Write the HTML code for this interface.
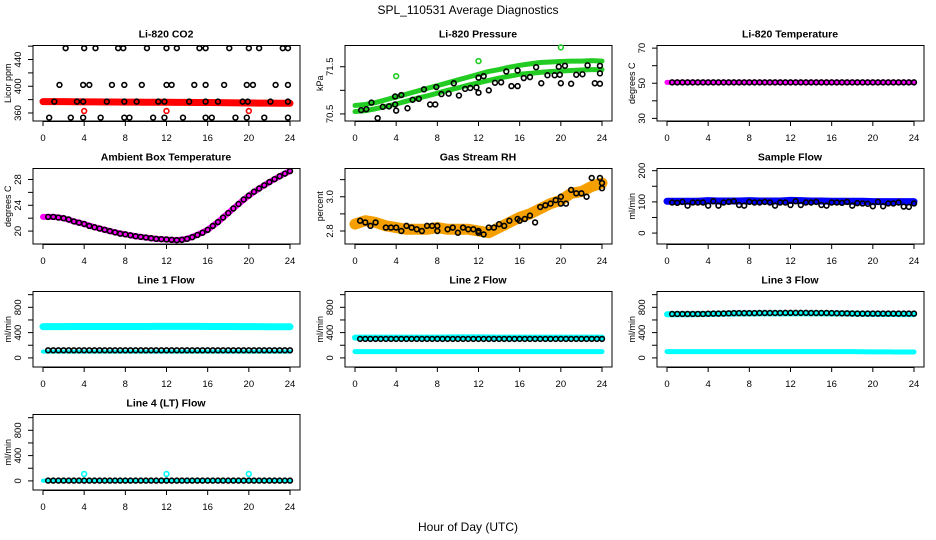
<!DOCTYPE html>
<html><head><meta charset="utf-8"><style>
html,body{margin:0;padding:0;background:#fff;}
svg{display:block;font-family:"Liberation Sans",Arial,sans-serif;}
</style></head><body>
<svg id="chart" width="936" height="540" viewBox="0 0 936 540" xmlns="http://www.w3.org/2000/svg">
<text x="468" y="14" font-size="12" text-anchor="middle">SPL_110531  Average Diagnostics</text>
<text x="468" y="531" font-size="12" text-anchor="middle">Hour of Day (UTC)</text>
</svg>
<script>
// ---- data ----
const hoursTicks = [0,4,8,12,16,20,24];
const hourly = [0,1,2,3,4,5,6,7,8,9,10,11,12,13,14,15,16,17,18,19,20,21,22,23,24];
const halfHours = [0.5,1,1.5,2,2.5,3,3.5,4,4.5,5,5.5,6,6.5,7,7.5,8,8.5,9,9.5,10,10.5,11,11.5,12,12.5,13,13.5,14,14.5,15,15.5,16,16.5,17,17.5,18,18.5,19,19.5,20,20.5,21,21.5,22,22.5,23,23.5,24];

// CO2
const co2Band = [377,377,377,376.8,376.7,376.6,376.5,376.4,376.3,376.2,376.1,376,376,375.9,375.8,375.7,375.6,375.5,375.3,375.1,375,374.8,374.7,374.6,374.5];
const co2PtsX = [2.2,4,5.1,7.3,7.8,10.1,12,13,15.2,15.8,18.1,20,21,23.3,23.8, 1.6,3.9,4.5,6.7,7.9,9.6,12,12.5,14.7,15.8,17.6,19.8,20.4,22.6,23.8, 1.1,3.3,3.9,6.2,7.9,9.1,11.2,11.8,14.2,15.8,17,19.4,19.9,22.1,23.8, 0.6,2.7,3.9,5.6,7.9,8.4,10.7,11.8,13.6,15.8,16.4,18.7,19.8,21.5,23.8];
const co2PtsY = [457,457,457,457,457,457,457,457,457,457,457,457,457,457,457, 402,402,402,402,402,402,402,402,402,402,402,402,402,402,402, 377,377,377,377,377,377,377,377,377,377,377,377,377,377,377, 353,353,353,353,353,353,353,353,353,353,353,353,353,353,353];
const co2OutX = [4,12,20];
const co2OutY = [363,363,363];

// Pressure
const presUpper = [70.68,70.7,70.74,70.8,70.86,70.92,70.98,71.04,71.1,71.16,71.22,71.28,71.34,71.4,71.44,71.49,71.53,71.56,71.59,71.6,71.61,71.62,71.62,71.63,71.62];
const presLower = [70.55,70.57,70.61,70.66,70.71,70.77,70.83,70.88,70.94,71.0,71.05,71.11,71.16,71.21,71.26,71.3,71.34,71.36,71.38,71.4,71.41,71.42,71.43,71.44,71.44];
const presPtsX = [1.6,3.9,4.5,6.7,7.9,9.6,12,12.5,14.7,15.8,17.6,19.8,20.4,22.6,23.8, 0.6,1.1,2.7,3.3,3.9,5.6,6.2,8.4,9.1,10.7,11.2,11.8,13.6,14.2,16.4,17,18.7,19.4,19.9,21.5,22.1,23.8, 2.2,4,5.1,7.3,7.8,10.1,12,13,15.2,15.8,18.1,20,21,23.3,23.8];
const presPtsY = [70.74,70.87,70.9,71.02,71.07,71.15,71.27,71.3,71.4,71.42,71.49,71.5,71.52,71.53,71.52, 70.58,70.6,70.65,70.66,70.7,70.8,70.82,70.92,70.93,71.03,71.05,71.06,71.16,71.17,71.26,71.28,71.32,71.32,71.33,71.33,71.34,71.36, 70.41,70.57,70.62,70.7,70.7,70.89,70.95,71.0,71.09,71.09,71.15,71.15,71.14,71.15,71.14];
const presOutX = [4,12,20];
const presOutY = [71.3,71.62,71.91];

// Li-820 temperature
const tempBand = [50.5,50.5,50.5,50.5,50.5,50.5,50.5,50.5,50.5,50.5,50.5,50.5,50.5,50.5,50.5,50.5,50.5,50.5,50.5,50.5,50.5,50.5,50.5,50.5,50.5];
const tempPts = [50.5,50.5,50.5,50.5,50.5,50.5,50.5,50.5,50.5,50.5,50.5,50.5,50.5,50.5,50.5,50.5,50.5,50.5,50.5,50.5,50.5,50.5,50.5,50.5,50.5,50.5,50.5,50.5,50.5,50.5,50.5,50.5,50.5,50.5,50.5,50.5,50.5,50.5,50.5,50.5,50.5,50.5,50.5,50.5,50.5,50.5,50.5,50.5];

// Ambient box temperature
const ambBand = [22.2,22.2,22.0,21.5,21.1,20.6,20.2,19.8,19.5,19.2,19.0,18.8,18.7,18.6,18.8,19.4,20.2,21.4,22.8,24.2,25.5,26.6,27.6,28.5,29.3];
const ambPts = [22.2,22.2,22.1,22.0,21.8,21.5,21.3,21.1,20.8,20.6,20.4,20.2,20.0,19.8,19.6,19.5,19.35,19.2,19.1,19.0,18.9,18.8,18.75,18.7,18.65,18.6,18.65,18.8,19.05,19.4,19.75,20.2,20.8,21.4,22.1,22.8,23.5,24.2,24.9,25.5,26.1,26.6,27.1,27.6,28.05,28.5,28.9,29.3];

// Gas stream RH
const rhBand = [2.84,2.86,2.85,2.83,2.82,2.81,2.81,2.81,2.82,2.81,2.81,2.81,2.8,2.79,2.82,2.85,2.88,2.9,2.93,2.96,2.98,3.02,3.03,3.06,3.08];
const rhPtsX = [0.5,1,1.5,2,3,3.5,4,4.5,5,5.5,6,6.5,7,7.5,8,8,9,9.5,10,10.5,11,11.5,12,12,12.5,13,13.5,14,14.5,15,15.8,16,16.5,17,17.5,18,18.5,19,19.5,20,20,20.5,21,21.5,22,22.5,23,23.8,24,24];
const rhPtsY = [2.86,2.85,2.83,2.85,2.82,2.82,2.82,2.8,2.83,2.82,2.81,2.8,2.83,2.83,2.8,2.83,2.81,2.82,2.79,2.82,2.81,2.81,2.79,2.8,2.78,2.82,2.82,2.84,2.83,2.86,2.87,2.86,2.87,2.89,2.85,2.94,2.95,2.96,2.98,3.0,2.96,2.96,3.04,3.02,3.02,3.0,3.11,3.11,3.08,3.05];

// Sample flow
const sfBand = [102,102,102,102,104,103,103,103,104,103,103,103,105,104,103,103,102,102,102,102,101,101,101,101,101];
const sfPts = [98,97,100,88,98,98,98,88,102,88,98,100,102,90,88,100,98,98,100,98,88,98,98,90,102,90,98,98,100,90,88,98,98,97,100,88,96,95,94,86,100,86,95,95,98,85,84,95];

// Line flows
const l1Band = [495,495,495,496,497,497,497,497,497,497,497,498,498,498,498,498,497,497,496,495,494,494,493,493,492];
const l1Low = [100,100,100,100,100,100,100,100,100,100,100,100,100,100,100,100,100,100,100,100,100,100,100,100,100];
const l1Pts = [120,120,120,120,120,120,120,120,120,120,120,120,120,120,120,120,120,120,120,120,120,120,120,120,120,120,120,120,120,120,120,120,120,120,120,120,120,120,120,120,120,120,120,120,120,120,120,120];
const l2Band = [320,320,320,320,320,320,320,320,320,322,325,325,325,322,320,320,320,320,320,320,320,320,320,320,320];
const l2Low = [100,100,100,100,100,100,100,100,100,100,100,100,100,100,100,100,100,100,100,100,100,100,100,100,100];
const l2Pts = [300,300,300,300,300,300,300,300,300,300,300,300,300,300,300,300,300,300,300,300,300,300,300,300,300,300,300,300,300,300,300,300,300,300,300,300,300,300,300,300,300,300,300,300,300,300,300,300];
const l3Band = [690,690,690,692,695,698,700,702,703,704,705,705,705,705,705,704,703,702,700,698,696,695,694,693,693];
const l3Low = [100,100,100,100,100,100,100,100,100,100,100,100,100,100,100,100,100,100,100,98,96,95,94,94,94];
const l3Pts = [695,695,695,695,695,695,695,698,700,700,702,705,708,708,708,708,708,710,710,710,710,710,712,712,712,712,712,710,710,710,710,708,706,705,705,702,700,700,700,700,700,700,700,700,700,700,700,700];
const l4Band = [5,5,5,5,5,5,5,5,5,5,5,5,5,5,5,5,5,5,5,5,5,5,5,5,5];
const l4Pts = [5,5,5,5,5,5,5,5,5,5,5,5,5,5,5,5,5,5,5,5,5,5,5,5,5,5,5,5,5,5,5,5,5,5,5,5,5,5,5,5,5,5,5,5,5,5,5,5];
const l4OutX = [4,12,20];
const l4OutY = [110,110,110];

// ---- drawing ----
const NS = 'http://www.w3.org/2000/svg';
const svg = document.getElementById('chart');
function mk(tag, attrs, parent){const e=document.createElementNS(NS,tag);for(const k in attrs)e.setAttribute(k,attrs[k]);(parent||svg).appendChild(e);return e;}

function panel(col,row,title,ylab,lo,hi,ticks,labels){
  const ox=col*312, oy=row*123;
  const g=mk('g',{});
  
  
  const L=ox+33,R=ox+300,T=oy+45.5,B=oy+121;
  const xs=h=>ox+43+h*247/24;
  const ys=v=>B-(v-lo)/(hi-lo)*(B-T);
  const box=mk('rect',{x:L,y:T,width:R-L,height:B-T,fill:'none',stroke:'#000','stroke-width':1},g);
  
  
  const t=mk('text',{x:ox+166,y:oy+37.5,'font-size':10.5,'font-weight':'bold','text-anchor':'middle'},g);
  t.textContent=title;
  
  
  const xa=mk('g',{},g);
  
  
  hoursTicks.forEach(h=>{
    mk('line',{x1:xs(h),x2:xs(h),y1:B,y2:B+5,stroke:'#000'},xa);
    const tl=mk('text',{x:xs(h),y:B+20,'font-size':9.5,'text-anchor':'middle'},xa);
    tl.textContent=h;
    
    
  });
  mk('line',{x1:xs(0),x2:xs(24),y1:B+0.5,y2:B+0.5,stroke:'#000'},xa);
  const ya=mk('g',{},g);
  
  
  ticks.forEach(v=>{
    mk('line',{x1:L-5,x2:L,y1:ys(v),y2:ys(v),stroke:'#000'},ya);
  });
  mk('line',{x1:L,x2:L,y1:ys(ticks[0]),y2:ys(ticks[ticks.length-1]),stroke:'#000'},ya);
  labels.forEach(s=>{
    const v=parseFloat(s);
    const tl=mk('text',{x:ox+21,y:ys(v),'font-size':9.5,'text-anchor':'middle',transform:`rotate(-90 ${ox+21} ${ys(v)})`},ya);
    tl.textContent=s;
    
    
  });
  const yl=mk('text',{x:ox+11,y:(T+B)/2,'font-size':9,'text-anchor':'middle',transform:`rotate(-90 ${ox+11} ${(T+B)/2})`},g);
  yl.textContent=ylab;
  
  
  return {g,xs,ys};
}
function band(p,xsArr,vals,color,w,name){
  const pl=mk('polyline',{points:xsArr.map((h,i)=>p.xs(h)+','+p.ys(vals[i])).join(' '),fill:'none',stroke:color,'stroke-width':w,'stroke-linejoin':'round','stroke-linecap':'round'},p.g);
  
  
}
function pts(p,xsArr,vals,color,name){
  const gg=mk('g',{},p.g);
  
  
  xsArr.forEach((h,i)=>{
    const c=mk('circle',{cx:p.xs(h),cy:p.ys(vals[i]),r:2.4,fill:'none',stroke:color,'stroke-width':1.6},gg);
    
    
  });
}

let p;
p=panel(0,0,'Li-820 CO2','Licor ppm',348,461,[360,380,400,420,440,460],['360','400','440']);
band(p,hourly,co2Band,'#ff0000',7,'co2-band');
pts(p,co2PtsX,co2PtsY,'#000','co2-points');
pts(p,co2OutX,co2OutY,'#ff0000','co2-outliers');

p=panel(1,0,'Li-820 Pressure','kPa',70.35,71.95,[70.5,71.0,71.5],['70.5','71.5']);
band(p,hourly,presUpper,'#22cc22',5,'pressure-upper-band');
band(p,hourly,presLower,'#22cc22',5,'pressure-lower-band');
pts(p,presPtsX,presPtsY,'#000','pressure-points');
pts(p,presOutX,presOutY,'#22cc22','pressure-outliers');

p=panel(2,0,'Li-820 Temperature','degrees C',28.5,71.5,[30,40,50,60,70],['30','50','70']);
band(p,hourly,tempBand,'#ff00ff',5,'temperature-band');
pts(p,halfHours,tempPts,'#000','temperature-points');

p=panel(0,1,'Ambient Box Temperature','degrees C',18.0,29.7,[20,22,24,26,28],['20','24','28']);
band(p,hourly,ambBand,'#ff00ff',6,'ambient-band');
pts(p,halfHours,ambPts,'#000','ambient-points');

p=panel(1,1,'Gas Stream RH','percent',2.724,3.165,[2.8,2.9,3.0,3.1],['2.8','3.0']);
band(p,hourly,rhBand,'#f5a000',11,'rh-band');
pts(p,rhPtsX,rhPtsY,'#000','rh-points');

p=panel(2,1,'Sample Flow','ml/min',-35,207,[0,50,100,150,200],['0','100','200']);
band(p,hourly,sfBand,'#0000ff',7,'sample-flow-band');
pts(p,halfHours,sfPts,'#000','sample-flow-points');

p=panel(0,2,'Line 1 Flow','ml/min',-144,1050,[0,200,400,600,800,1000],['0','400','800']);
band(p,hourly,l1Band,'#00ffff',7,'line1-band');
band(p,hourly,l1Low,'#00ffff',4,'line1-low-band');
pts(p,halfHours,l1Pts,'#000','line1-points');

p=panel(1,2,'Line 2 Flow','ml/min',-144,1050,[0,200,400,600,800,1000],['0','400','800']);
band(p,hourly,l2Band,'#00ffff',6,'line2-band');
band(p,hourly,l2Low,'#00ffff',5,'line2-low-band');
pts(p,halfHours,l2Pts,'#000','line2-points');

p=panel(2,2,'Line 3 Flow','ml/min',-144,1050,[0,200,400,600,800,1000],['0','400','800']);
band(p,hourly,l3Band,'#00ffff',6,'line3-band');
band(p,hourly,l3Low,'#00ffff',5,'line3-low-band');
pts(p,halfHours,l3Pts,'#000','line3-points');

p=panel(0,3,'Line 4 (LT) Flow','ml/min',-144,1050,[0,200,400,600,800,1000],['0','400','800']);
band(p,hourly,l4Band,'#00ffff',4,'line4-band');
pts(p,halfHours,l4Pts,'#000','line4-points');
pts(p,l4OutX,l4OutY,'#00ffff','line4-outliers');
</script>
</body></html>
